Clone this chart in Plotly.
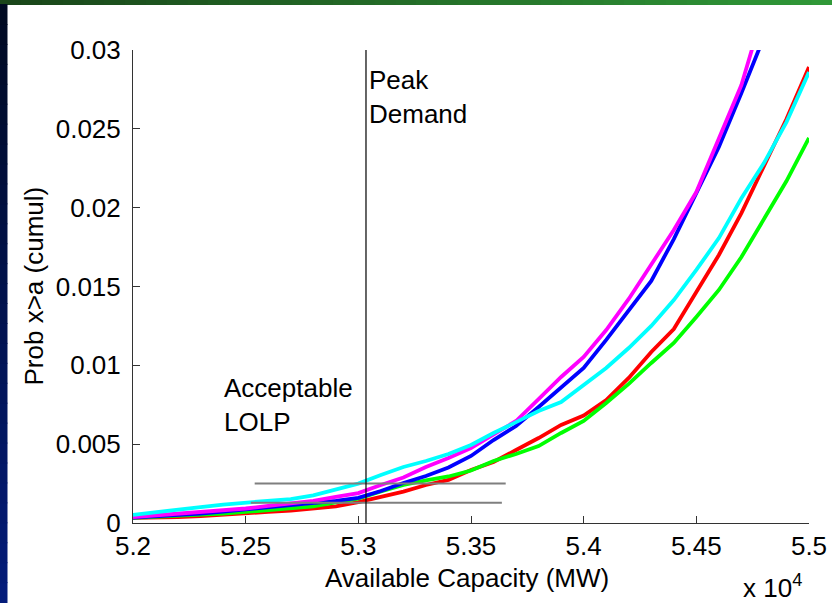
import plotly.graph_objects as go

# ---------------- data ----------------
capacity_mw = [52000, 52100, 52200, 52300, 52400, 52500, 52600, 52700, 52800, 52900,
               53000, 53100, 53200, 53300, 53400, 53500, 53600, 53700, 53800, 53900,
               54000, 54100, 54200, 54300, 54400, 54500, 54600, 54700, 54800, 54900, 55000]

prob_red = [0.00032, 0.00034, 0.00037, 0.00044, 0.00051, 0.00060, 0.00070, 0.00079, 0.00092, 0.00105,
            0.00133, 0.00168, 0.00199, 0.00241, 0.00273, 0.00336, 0.00387, 0.00463, 0.00539, 0.00622,
            0.00682, 0.00780, 0.00920, 0.01085, 0.01230, 0.01465, 0.01700, 0.01966, 0.02270, 0.02562, 0.02892]

prob_green = [0.00032, 0.00038, 0.00044, 0.00051, 0.00060, 0.00070, 0.00082, 0.00092, 0.00105, 0.00130,
              0.00155, 0.00200, 0.00241, 0.00270, 0.00295, 0.00333, 0.00393, 0.00438, 0.00488, 0.00571,
              0.00647, 0.00761, 0.00882, 0.01015, 0.01142, 0.01307, 0.01478, 0.01687, 0.01928, 0.02169, 0.02442]

prob_blue = [0.00034, 0.00041, 0.00051, 0.00060, 0.00073, 0.00086, 0.00098, 0.00111, 0.00127, 0.00140,
             0.00159, 0.00203, 0.00254, 0.00298, 0.00352, 0.00425, 0.00526, 0.00615, 0.00736, 0.00856,
             0.00983, 0.01161, 0.01345, 0.01535, 0.01801, 0.02087, 0.02385, 0.02727, 0.03082]

prob_magenta = [0.00038, 0.00048, 0.00057, 0.00068, 0.00081, 0.00092, 0.00108, 0.00124, 0.00140, 0.00165,
                0.00190, 0.00241, 0.00289, 0.00355, 0.00412, 0.00476, 0.00558, 0.00647, 0.00786, 0.00926,
                0.01053, 0.01224, 0.01421, 0.01636, 0.01858, 0.02099, 0.02435, 0.02778, 0.03260]

prob_cyan = [0.00052, 0.00070, 0.00086, 0.00101, 0.00117, 0.00127, 0.00140, 0.00152, 0.00175, 0.00210,
             0.00250, 0.00305, 0.00355, 0.00393, 0.00438, 0.00495, 0.00571, 0.00640, 0.00710, 0.00767,
             0.00875, 0.00983, 0.01110, 0.01250, 0.01414, 0.01605, 0.01807, 0.02060, 0.02283, 0.02543, 0.02860]

peak_demand_mw = 53034
lolp_levels = [0.0025, 0.00128]
lolp_x_start = [52540, 52523]
lolp_x_end = [53654, 53637]

x_tickvals = [52000, 52500, 53000, 53500, 54000, 54500, 55000]
x_ticktext = ["5.2", "5.25", "5.3", "5.35", "5.4", "5.45", "5.5"]
y_tickvals = [0, 0.005, 0.01, 0.015, 0.02, 0.025, 0.03]
y_ticktext = ["0", "0.005", "0.01", "0.015", "0.02", "0.025", "0.03"]

# ---------------- figure ----------------
FONT = "Liberation Sans, Arial, Helvetica, sans-serif"
FS = 26
W, H = 832, 603
L, R, T, B = 133, 23, 50, 80
pw, ph = W - L - R, H - T - B


def px_to_paper_x(px):
    return (px - L) / pw


def px_to_paper_y(py):
    return (H - B - py) / ph


fig = go.Figure()

series = [
    (prob_red, "#FF0000"),
    (prob_green, "#00FF00"),
    (prob_blue, "#0000FF"),
    (prob_magenta, "#FF00FF"),
    (prob_cyan, "#00FFFF"),
]
for vals, col in series:
    fig.add_trace(go.Scatter(x=capacity_mw[:len(vals)], y=vals, mode="lines",
                             line=dict(color=col, width=3.8), showlegend=False,
                             hoverinfo="skip"))

# acceptable LOLP lines
for lvl, xs, xe in zip(lolp_levels, lolp_x_start, lolp_x_end):
    fig.add_trace(go.Scatter(x=[xs, xe], y=[lvl, lvl], mode="lines",
                             line=dict(color="#7f7f7f", width=2), showlegend=False,
                             hoverinfo="skip"))

# peak demand line
fig.add_trace(go.Scatter(x=[peak_demand_mw, peak_demand_mw], y=[0, 0.03], mode="lines",
                         line=dict(color="black", width=1.2), showlegend=False, hoverinfo="skip"))

shapes = []
# top green gradient bar
n = 40
x0p, x1p = px_to_paper_x(0), px_to_paper_x(W)
for i in range(n):
    t = i / (n - 1)
    r = int(0x1a + (0x30 - 0x1a) * t)
    g = int(0x46 + (0x98 - 0x46) * t)
    b = int(0x1a + (0x38 - 0x1a) * t)
    shapes.append(dict(type="rect", xref="paper", yref="paper",
                       x0=x0p + (x1p - x0p) * i / n, x1=x0p + (x1p - x0p) * (i + 1) / n + 0.002,
                       y0=px_to_paper_y(5), y1=px_to_paper_y(0),
                       fillcolor=f"rgb({r},{g},{b})", line=dict(width=0), layer="below"))
# left navy gradient strip
m = 30
y0p, y1p = px_to_paper_y(H), px_to_paper_y(5)
for i in range(m):
    t = i / (m - 1)  # 0 bottom -> 1 top
    r = int(0x04 * (1 - t) + 0x00 * t)
    g = int(0x1c * (1 - t) + 0x0a * t)
    b = int(0x7a * (1 - t) + 0x22 * t)
    shapes.append(dict(type="rect", xref="paper", yref="paper",
                       x0=px_to_paper_x(0), x1=px_to_paper_x(7.5),
                       y0=y0p + (y1p - y0p) * i / m, y1=y0p + (y1p - y0p) * (i + 1) / m + 0.002,
                       fillcolor=f"rgb({r},{g},{b})", line=dict(width=0), layer="below"))

annotations = [
    dict(text="Peak<br>Demand", xref="x", yref="paper", x=peak_demand_mw, y=px_to_paper_y(63),
         xanchor="left", yanchor="top", xshift=1, showarrow=False, align="left",
         font=dict(family=FONT, size=FS, color="black")),
    dict(text="Acceptable<br>LOLP", xref="paper", yref="paper", x=px_to_paper_x(222),
         y=px_to_paper_y(371), xanchor="left", yanchor="top", showarrow=False, align="left",
         font=dict(family=FONT, size=FS, color="black")),
    dict(text="Prob x>a (cumul)", xref="paper", yref="paper", x=px_to_paper_x(33), y=0.5,
         xanchor="center", yanchor="middle", textangle=-90, showarrow=False,
         font=dict(family=FONT, size=FS, color="black")),
    dict(text="Available Capacity (MW)", xref="paper", yref="paper", x=px_to_paper_x(467),
         y=px_to_paper_y(578), xanchor="center", yanchor="middle", showarrow=False,
         font=dict(family=FONT, size=FS, color="black")),
    dict(text="x 10<sup>4</sup>", xref="paper", yref="paper", x=px_to_paper_x(804),
         y=px_to_paper_y(605), xanchor="right", yanchor="bottom", showarrow=False,
         font=dict(family=FONT, size=FS, color="black")),
]

fig.update_layout(
    width=W, height=H, autosize=False,
    margin=dict(l=L, r=R, t=T, b=B, pad=0),
    paper_bgcolor="white", plot_bgcolor="white",
    shapes=shapes, annotations=annotations,
    showlegend=False,
    xaxis=dict(range=[52000, 55000], tickvals=x_tickvals, ticktext=x_ticktext,
               ticks="inside", ticklen=7, tickcolor="#333", showgrid=False, zeroline=False,
               showline=True, linecolor="#333", linewidth=1, mirror=False, automargin=False,
               tickfont=dict(family=FONT, size=FS, color="black"), ticklabelstandoff=0),
    yaxis=dict(range=[0, 0.03], tickvals=y_tickvals, ticktext=y_ticktext,
               ticks="inside", ticklen=7, tickcolor="#333", showgrid=False, zeroline=False,
               showline=True, linecolor="#333", linewidth=1, mirror=False, automargin=False,
               tickfont=dict(family=FONT, size=FS, color="black"), ticklabelstandoff=6),
)

post = (
    "document.documentElement.style.margin='0';"
    "document.documentElement.style.overflow='hidden';"
    "document.body.style.margin='0';"
    "document.body.style.overflow='hidden';"
)
fig.write_html("out.html", config={"displayModeBar": False, "responsive": False},
               post_script=post)
